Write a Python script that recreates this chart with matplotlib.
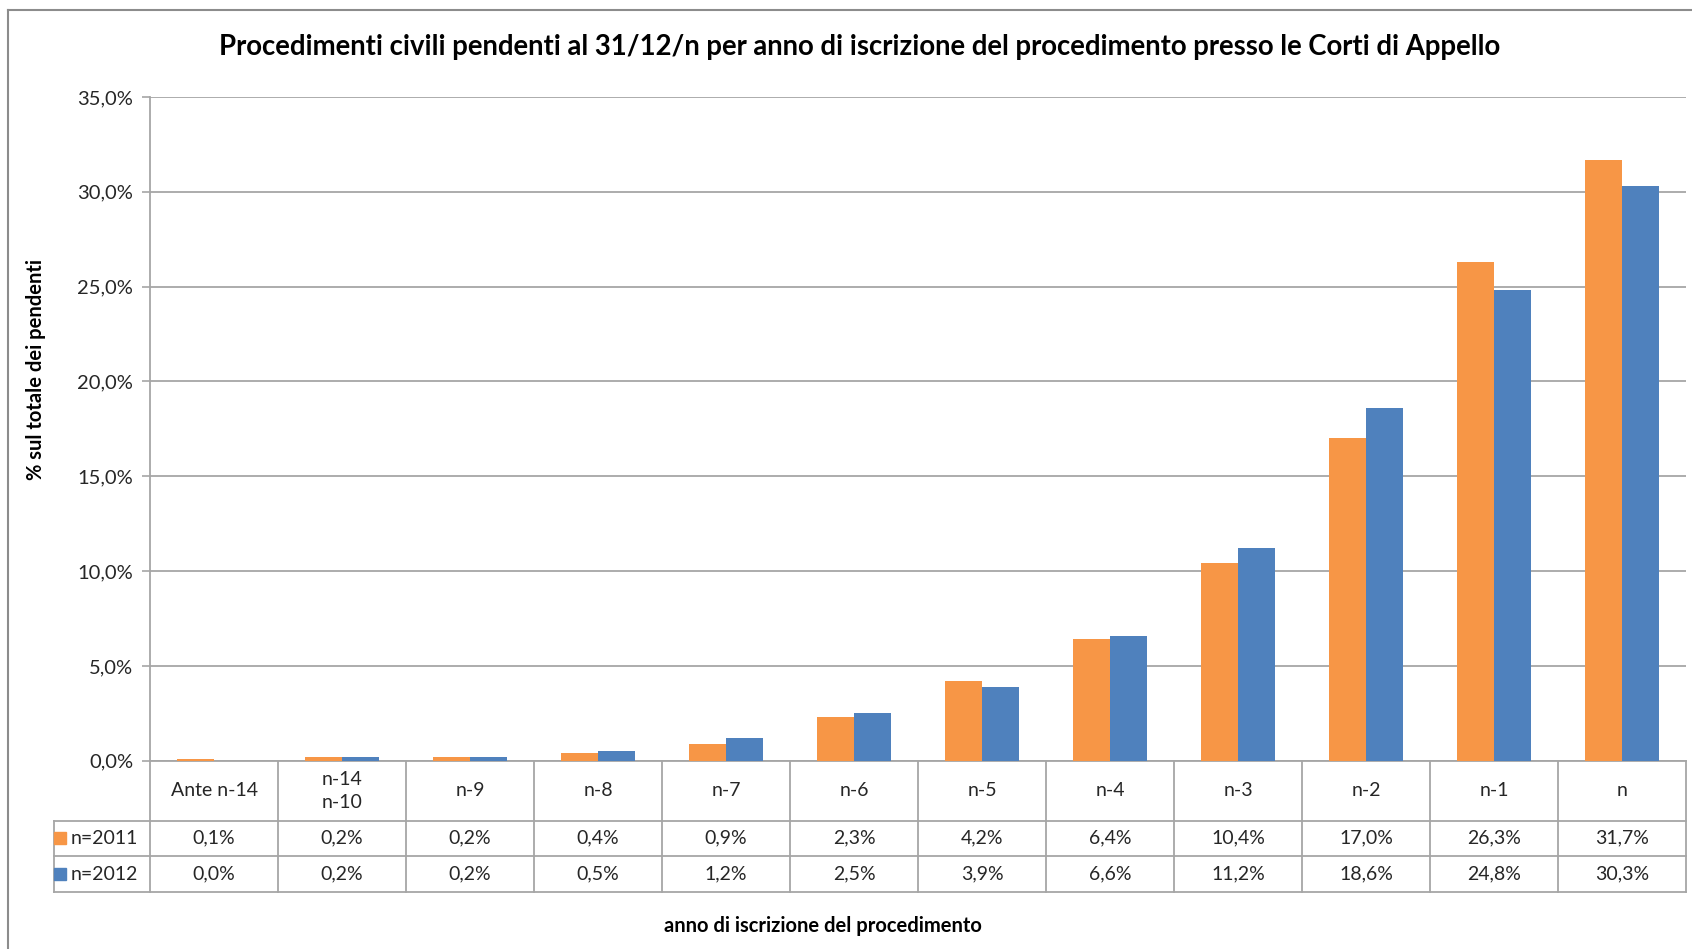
import numpy as np
import matplotlib.pyplot as plt
from matplotlib.lines import Line2D
from matplotlib.transforms import blended_transform_factory

plt.rcParams['font.family'] = ['Lato', 'DejaVu Sans']

categories = ['Ante n-14', 'n-14\nn-10', 'n-9', 'n-8', 'n-7', 'n-6',
              'n-5', 'n-4', 'n-3', 'n-2', 'n-1', 'n']
val_2011 = [0.1, 0.2, 0.2, 0.4, 0.9, 2.3, 4.2, 6.4, 10.4, 17.0, 26.3, 31.7]
val_2012 = [0.0, 0.2, 0.2, 0.5, 1.2, 2.5, 3.9, 6.6, 11.2, 18.6, 24.8, 30.3]
series_names = ['n=2011', 'n=2012']
yticks = [0, 5, 10, 15, 20, 25, 30, 35]

title = 'Procedimenti civili pendenti al 31/12/n per anno di iscrizione del procedimento presso le Corti di Appello'
ylabel = '% sul totale dei pendenti'
xlabel = 'anno di iscrizione del procedimento'

ORANGE = '#F79646'
BLUE = '#4F81BD'
GRID = '#A6A6A6'
TXT = '#262626'


def pct(v):
    return f'{v:.1f}%'.replace('.', ',')


W, H = 1692, 949
fig = plt.figure(figsize=(W / 100, H / 100), dpi=100)

# outer chart frame (only top and left visible)
fig.add_artist(Line2D([8 / W, 8 / W], [0, 1 - 10 / H], transform=fig.transFigure, color='#8C8C8C', lw=1.5))
fig.add_artist(Line2D([8 / W, 1], [1 - 10 / H, 1 - 10 / H], transform=fig.transFigure, color='#8C8C8C', lw=1.5))

ax_l, ax_r, ax_t, ax_b = 150, 1686, 97, 760.7
ax = fig.add_axes([ax_l / W, 1 - ax_b / H, (ax_r - ax_l) / W, (ax_b - ax_t) / H])

x = np.arange(len(categories))
bw = 0.286
ax.bar(x - bw / 2, val_2011, bw, color=ORANGE, zorder=3)
ax.bar(x + bw / 2, val_2012, bw, color=BLUE, zorder=3)

ax.set_xlim(-0.5, len(categories) - 0.5)
ax.set_ylim(0, 35)
ax.set_yticks(yticks)
ax.set_yticklabels([pct(t) for t in yticks])
ax.set_xticks([])
ax.tick_params(axis='y', length=6, width=1.2, color=GRID, labelsize=14.5, labelcolor=TXT, pad=6)
ax.yaxis.grid(True, color=GRID, lw=1.3, zorder=0)
for s in ['top', 'right', 'bottom']:
    ax.spines[s].set_visible(False)
ax.spines['left'].set_color(GRID)
ax.spines['left'].set_linewidth(1.3)

# data table below the axis
pxh = ax_b - ax_t
rows = [0, -60 / pxh, -95.3 / pxh, -131.3 / pxh]
leg_x = -0.5 - (ax_l - 53.6) / ((ax_r - ax_l) / len(categories))
trans = blended_transform_factory(ax.transData, ax.transAxes)
kw = dict(transform=trans, clip_on=False, color=GRID, lw=1.3)
xr = len(categories) - 0.5
ax.plot([-0.5, xr], [rows[0], rows[0]], **kw)
for r in rows[1:]:
    ax.plot([leg_x, xr], [r, r], **kw)
for i in range(len(categories) + 1):
    ax.plot([i - 0.5, i - 0.5], [rows[0], rows[3]], **kw)
ax.plot([leg_x, leg_x], [rows[1], rows[3]], **kw)

for i, c in enumerate(categories):
    ax.text(i, (rows[0] + rows[1]) / 2, c, transform=trans, ha='center', va='center',
            fontsize=14, color=TXT, linespacing=1.45)
    ax.text(i, (rows[1] + rows[2]) / 2, pct(val_2011[i]), transform=trans, ha='center', va='center',
            fontsize=14, color=TXT)
    ax.text(i, (rows[2] + rows[3]) / 2, pct(val_2012[i]), transform=trans, ha='center', va='center',
            fontsize=14, color=TXT)

for k, (name, col) in enumerate(zip(series_names, [ORANGE, BLUE])):
    yc = (rows[k + 1] + rows[k + 2]) / 2
    ax.plot([leg_x + 0.05], [yc], marker='s', ms=8.5, color=col, transform=trans, clip_on=False)
    ax.text(leg_x + 0.13, yc, name, transform=trans, ha='left', va='center', fontsize=14, color=TXT)

fig.text(860 / W, 1 - 47 / H, title, ha='center', va='center', fontsize=19.8, fontweight='bold', color='black')
fig.text(36 / W, 1 - 370 / H, ylabel, ha='center', va='center', rotation=90, fontsize=14.5,
         fontweight='bold', color='black')
fig.text(823 / W, 1 - 926 / H, xlabel, ha='center', va='center', fontsize=14.5, fontweight='bold', color='black')

fig.savefig('out.png', dpi=100)
